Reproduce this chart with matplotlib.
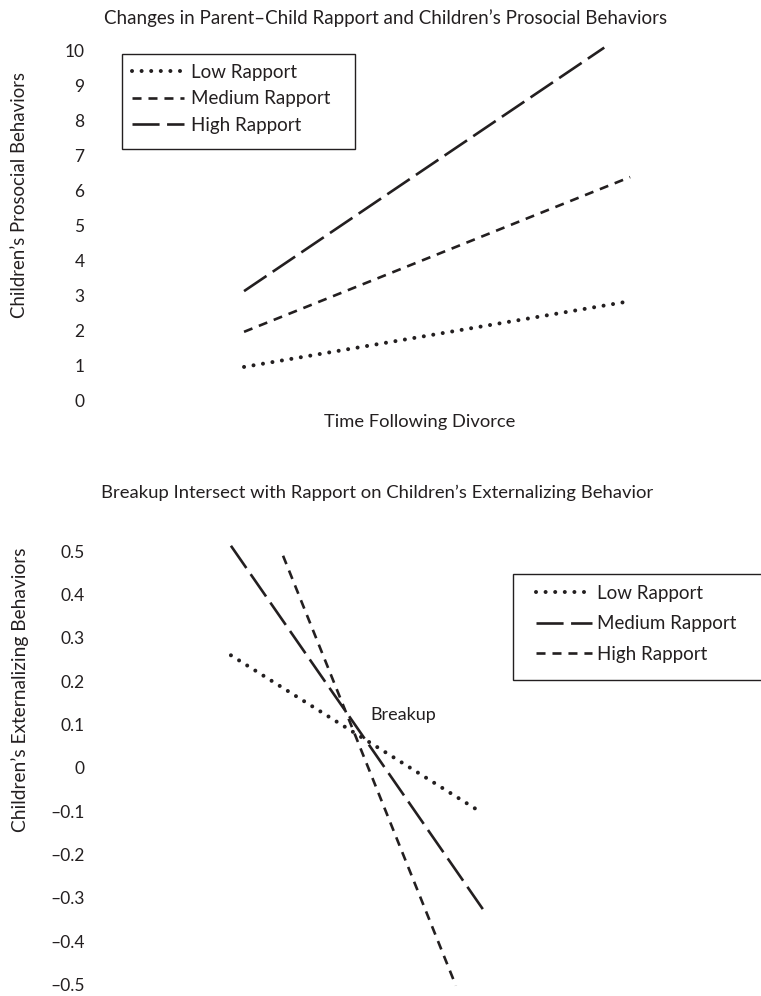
import matplotlib
matplotlib.use('Agg')
import matplotlib.pyplot as plt
from matplotlib.lines import Line2D
from matplotlib.patches import Rectangle

plt.rcParams['font.family'] = ['Lato', 'DejaVu Sans']
plt.rcParams['lines.scale_dashes'] = False

# ---------------- data ----------------
top_title = "Changes in Parent\u2013Child Rapport and Children\u2019s Prosocial Behaviors"
top_ylabel = "Children\u2019s Prosocial Behaviors"
top_xlabel = "Time Following Divorce"
top_series = ["Low Rapport", "Medium Rapport", "High Rapport"]
top_time = [[0.0, 0.987], [0.0, 1.0], [0.0, 0.933]]
top_low = [0.97, 2.82]
top_medium = [1.97, 6.38]
top_high = [3.13, 10.07]
top_yticks = [0, 1, 2, 3, 4, 5, 6, 7, 8, 9, 10]
top_yticklabels = ["0", "1", "2", "3", "4", "5", "6", "7", "8", "9", "10"]

bot_title = "Breakup Intersect with Rapport on Children\u2019s Externalizing Behavior"
bot_ylabel = "Children\u2019s Externalizing Behaviors"
bot_annot = "Breakup"
bot_series = ["Low Rapport", "Medium Rapport", "High Rapport"]
bot_time = [[0.0, 0.968], [0.0, 1.0], [0.206, 0.889]]
bot_low = [0.26, -0.095]
bot_medium = [0.513, -0.33]
bot_high = [0.49, -0.503]
bot_yticks = [0.5, 0.4, 0.3, 0.2, 0.1, 0.0, -0.1, -0.2, -0.3, -0.4, -0.5]
bot_yticklabels = ["0.5", "0.4", "0.3", "0.2", "0.1", "0", "\u20130.1", "\u20130.2",
                   "\u20130.3", "\u20130.4", "\u20130.5"]

# ---------------- style ----------------
INK = '#231f20'
W, H = 761, 996
DOT = dict(color=INK, lw=2.9, linestyle=(0, (0.01, 6.9)), dash_capstyle='round')
SHORT = dict(color=INK, lw=1.9, linestyle=(0, (6.5, 5.0)), dash_capstyle='butt')
LONG = dict(color=INK, lw=1.9, linestyle=(0, (19.5, 5.4)), dash_capstyle='butt')

fig = plt.figure(figsize=(W / 100, H / 100), dpi=100)


def px_axes(l, t, r, b):
    return fig.add_axes([l / W, 1 - b / H, (r - l) / W, (b - t) / H])


def clean(ax):
    for s in ax.spines.values():
        s.set_visible(False)
    ax.set_xticks([])
    ax.tick_params(axis='y', length=0, pad=4, labelsize=12.5, labelcolor=INK)


# ---------------- top chart ----------------
ax1 = px_axes(90, 36, 761, 415)
clean(ax1)
ax1.set_xlim(-0.399, 1.339)
ax1.set_ylim(-0.4, 10.4)
ax1.plot(top_time[0], top_low, **DOT)
ax1.plot(top_time[1], top_medium, **SHORT)
ax1.plot(top_time[2], top_high, **LONG)
ax1.set_yticks(top_yticks)
ax1.set_yticklabels(top_yticklabels)

fig.text(386 / W, 1 - 18 / H, top_title, ha='center', va='center', fontsize=13.5, color=INK)
fig.text(420 / W, 1 - 422 / H, top_xlabel, ha='center', va='center', fontsize=13.2, color=INK)
fig.text(20 / W, 1 - 195 / H, top_ylabel, ha='center', va='center', rotation=90,
         fontsize=13.4, color=INK)

h1 = [Line2D([], [], **DOT), Line2D([], [], **SHORT), Line2D([], [], **LONG)]
fig.legend(h1, top_series, loc='upper left', bbox_to_anchor=(132 / W, 1 - 64 / H),
           frameon=False, borderpad=0, borderaxespad=0, handlelength=2.75,
           handletextpad=0.42, labelspacing=0.5, fontsize=13.5, labelcolor=INK)
fig.patches.append(Rectangle((122 / W, 1 - 149 / H), (355 - 122) / W, (149 - 54) / H,
                             transform=fig.transFigure, fill=False, edgecolor=INK, lw=1.0))

# ---------------- bottom chart ----------------
ax2 = px_axes(90, 525, 761, 996)
clean(ax2)
ax2.set_xlim(-0.557, 2.095)
ax2.set_ylim(-0.527, 0.561)
ax2.plot(bot_time[0], bot_low, **DOT)
ax2.plot(bot_time[1], bot_medium, **LONG)
ax2.plot(bot_time[2], bot_high, **SHORT)
ax2.set_yticks(bot_yticks)
ax2.set_yticklabels(bot_yticklabels)
ax2.text(0.55, 0.122, bot_annot, ha='left', va='center', fontsize=13, color=INK)

fig.text(377 / W, 1 - 493 / H, bot_title, ha='center', va='center', fontsize=13.3, color=INK)
fig.text(20 / W, 1 - 690 / H, bot_ylabel, ha='center', va='center', rotation=90,
         fontsize=13.8, color=INK)

h2 = [Line2D([], [], **DOT), Line2D([], [], **LONG), Line2D([], [], **SHORT)]
fig.legend(h2, bot_series, loc='upper left', bbox_to_anchor=(536 / W, 1 - 585 / H),
           frameon=False, borderpad=0, borderaxespad=0, handlelength=3.0,
           handletextpad=0.25, labelspacing=0.72, fontsize=13.5, labelcolor=INK)
fig.patches.append(Rectangle((513 / W, 1 - 680 / H), (762 - 513) / W, (680 - 574) / H,
                             transform=fig.transFigure, fill=False, edgecolor=INK, lw=1.0))

fig.savefig('out.png', dpi=100)
